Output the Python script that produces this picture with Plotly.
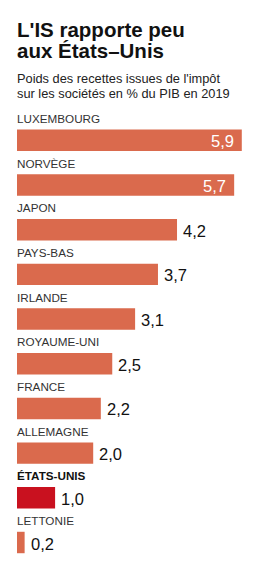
import plotly.graph_objects as go

countries = ["LUXEMBOURG", "NORVÈGE", "JAPON", "PAYS-BAS", "IRLANDE",
             "ROYAUME-UNI", "FRANCE", "ALLEMAGNE", "ÉTATS-UNIS", "LETTONIE"]
values = [5.9, 5.7, 4.2, 3.7, 3.1, 2.5, 2.2, 2.0, 1.0, 0.2]
value_labels = ["5,9", "5,7", "4,2", "3,7", "3,1", "2,5", "2,2", "2,0", "1,0", "0,2"]
highlight = "ÉTATS-UNIS"
title_lines = ["L'IS rapporte peu", "aux États–Unis"]
subtitle_lines = ["Poids des recettes issues de l'impôt",
                  "sur les sociétés en % du PIB en 2019"]

W, H = 261, 584
PT, PB = 117.7, 573.3          # plot area top / bottom in pixels
ML = 17
PX_PER_UNIT = 38.1
XMAX = (W - ML) / PX_PER_UNIT

ORANGE = "#DA6A4D"
RED = "#C9111F"
FONT = "Liberation Sans, Arial, sans-serif"
INSIDE_MIN = 5.0


def py(p):
    return (PB - p) / (PB - PT)


colors = [RED if c == highlight else ORANGE for c in countries]

fig = go.Figure(go.Bar(
    x=values, y=countries, orientation="h",
    marker=dict(color=colors, line=dict(width=0)),
    width=0.48, hoverinfo="skip",
))

ann = []
for c, v, lab in zip(countries, values, value_labels):
    bold = c == highlight
    ann.append(dict(
        x=0, y=c, xref="x", yref="y", text=f"<b>{c}</b>" if bold else c,
        xanchor="left", yanchor="middle", yshift=22, xshift=-2,
        showarrow=False,
        font=dict(family=FONT, size=11.7, color="#111" if bold else "#333"),
    ))
    inside = v >= INSIDE_MIN
    ann.append(dict(
        x=v, y=c, xref="x", yref="y", text=lab,
        xanchor="right" if inside else "left", yanchor="middle",
        xshift=-6 if inside else 4, yshift=-1, showarrow=False,
        font=dict(family=FONT, size=16.5, color="white" if inside else "#111"),
    ))

for i, t in enumerate(title_lines):
    ann.append(dict(
        x=-ML / (W - ML), y=py(29.5 + 21 * i), xref="paper", yref="paper",
        text=f"<b>{t}</b>", xanchor="left", yanchor="middle", xshift=15,
        showarrow=False,
        font=dict(family=FONT, size=20.5, color="#111"),
    ))
for i, t in enumerate(subtitle_lines):
    ann.append(dict(
        x=-ML / (W - ML), y=py(78.5 + 14.5 * i), xref="paper", yref="paper",
        text=t, xanchor="left", yanchor="middle", xshift=15,
        showarrow=False,
        font=dict(family=FONT, size=12.8, color="#222"),
    ))

fig.update_layout(
    width=W, height=H,
    margin=dict(l=ML, r=0, t=PT, b=H - PB, pad=0),
    paper_bgcolor="white", plot_bgcolor="white",
    showlegend=False,
    xaxis=dict(range=[0, XMAX], visible=False, fixedrange=True),
    yaxis=dict(categoryorder="array", categoryarray=countries,
               autorange="reversed", visible=False, fixedrange=True),
    annotations=ann,
    bargap=0.52,
)

fig.write_html("out.html", config={"displayModeBar": False})
